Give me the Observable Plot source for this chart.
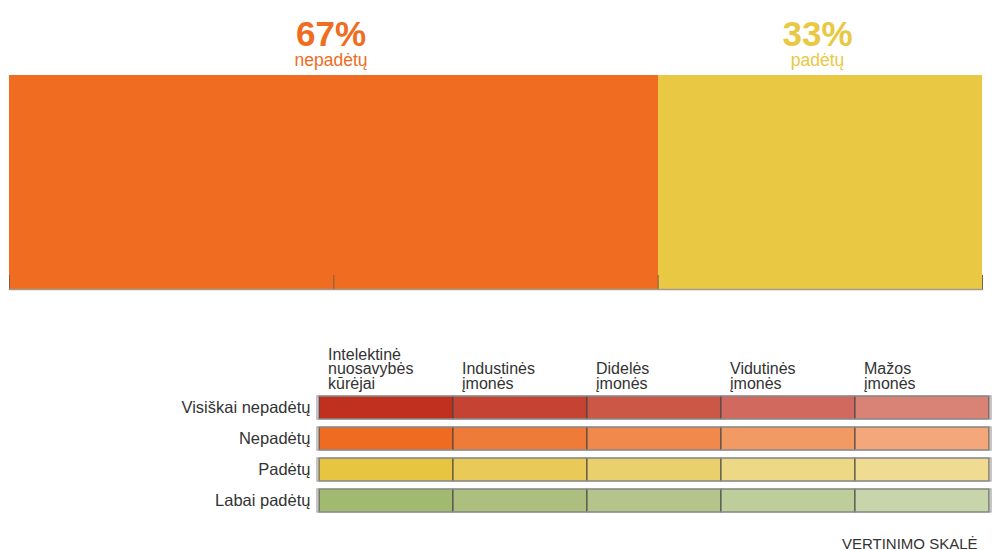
<!DOCTYPE html>
<html>
<head>
<meta charset="utf-8">
<script src="https://cdn.jsdelivr.net/npm/d3@7"></script>
<script src="https://cdn.jsdelivr.net/npm/@observablehq/plot@0.6"></script>
<style>
  html, body { margin: 0; padding: 0; background: #fff; }
  #chart { width: 992px; }
  svg { display: block; }
</style>
</head>
<body>
<div id="chart"></div>
<script>
// ---- data ----
const shareLabels = ["nepadėtų", "padėtų"];
const shareValues = [66.7, 33.3];
const axisTicks = [0, 100 / 3, 200 / 3, 100];

const scaleRows = ["Visiškai nepadėtų", "Nepadėtų", "Padėtų", "Labai padėtų"];
const scaleColumns = [
  "Intelektinė\nnuosavybės\nkūrėjai",
  "Industinės\nįmonės",
  "Didelės\nįmonės",
  "Vidutinės\nįmonės",
  "Mažos\nįmonės"
];
const scaleTitle = "VERTINIMO SKALĖ";

// ---- styles ----
const shareColors = ["#F06C21", "#E9C843"];
const gridColors = [
  ["#C0301F", "#C44333", "#CB5747", "#D2695F", "#D98377"],
  ["#F06B22", "#EF7B38", "#F1884C", "#F19A63", "#F4A77A"],
  ["#E8C540", "#E9C957", "#EAD06C", "#EDD885", "#EFDC92"],
  ["#A2BA6F", "#ACBF7E", "#B4C48B", "#BECE9B", "#C8D4AA"]
];
const FONT = "'Liberation Sans', Arial, Helvetica, sans-serif";

const shares = shareLabels.map((label, i) => ({label, value: shareValues[i]}));

const topChart = Plot.plot({
  width: 992,
  height: 300,
  marginLeft: 9,
  marginRight: 10,
  marginTop: 75,
  marginBottom: 11,
  style: {fontFamily: FONT, background: "white"},
  x: {domain: [0, 100], axis: null},
  color: {domain: shareLabels, range: shareColors},
  marks: [
    Plot.barX(shares, Plot.stackX({x: "value", fill: "label", order: null})),
    Plot.ruleX(axisTicks, {x: d => d, insetTop: 200, stroke: "#7d5e40", strokeWidth: 1}),
    Plot.frame({anchor: "bottom", stroke: "#a39a8e", strokeWidth: 1.5}),
    Plot.text(shares, Plot.stackX({
      x: "value", order: null,
      text: d => Math.round(d.value) + "%",
      fill: "label",
      frameAnchor: "top", lineAnchor: "bottom", dy: -30, dx: -3,
      fontSize: 35, fontWeight: "bold"
    })),
    Plot.text(shares, Plot.stackX({
      x: "value", order: null,
      text: "label",
      fill: "label",
      frameAnchor: "top", lineAnchor: "bottom", dy: -10, dx: -3,
      fontSize: 17.5
    }))
  ]
});

const cells = [];
scaleRows.forEach((row, r) => scaleColumns.forEach((col, c) => cells.push({row, col, r, c})));

const bottomChart = Plot.plot({
  width: 992,
  height: 250,
  marginLeft: 317,
  marginRight: 1,
  marginTop: 95,
  marginBottom: 37,
  style: {fontFamily: FONT, fontSize: "16px", color: "#333", background: "white"},
  x: {domain: scaleColumns, padding: 0, axis: null},
  y: {domain: scaleRows, paddingInner: 0.27, paddingOuter: 0, label: null},
  color: {type: "identity"},
  marks: [
    Plot.cell(cells, {x: "col", y: "row", fill: d => gridColors[d.r][d.c], stroke: "#444", strokeWidth: 1, inset: 0}),
    Plot.cell(scaleRows, {y: d => d, fill: "none", stroke: "#a0a0a0", strokeWidth: 1.2, inset: 0}),
    Plot.axisY({tickSize: 0, tickPadding: 7, fontSize: 16.5, fill: "#333", label: null}),
    Plot.text(scaleColumns, {
      x: d => d, text: d => d,
      frameAnchor: "top", lineAnchor: "bottom", textAnchor: "start",
      dx: -58.5, dy: -7, lineHeight: 0.88, fontSize: 16, fill: "#333"
    }),
    Plot.text([scaleTitle], {
      text: d => d, frameAnchor: "bottom-right", textAnchor: "end", lineAnchor: "bottom",
      dx: -14, dy: 35, fontSize: 15, fill: "#333"
    })
  ]
});

document.getElementById("chart").append(topChart, bottomChart);
</script>
</body>
</html>
